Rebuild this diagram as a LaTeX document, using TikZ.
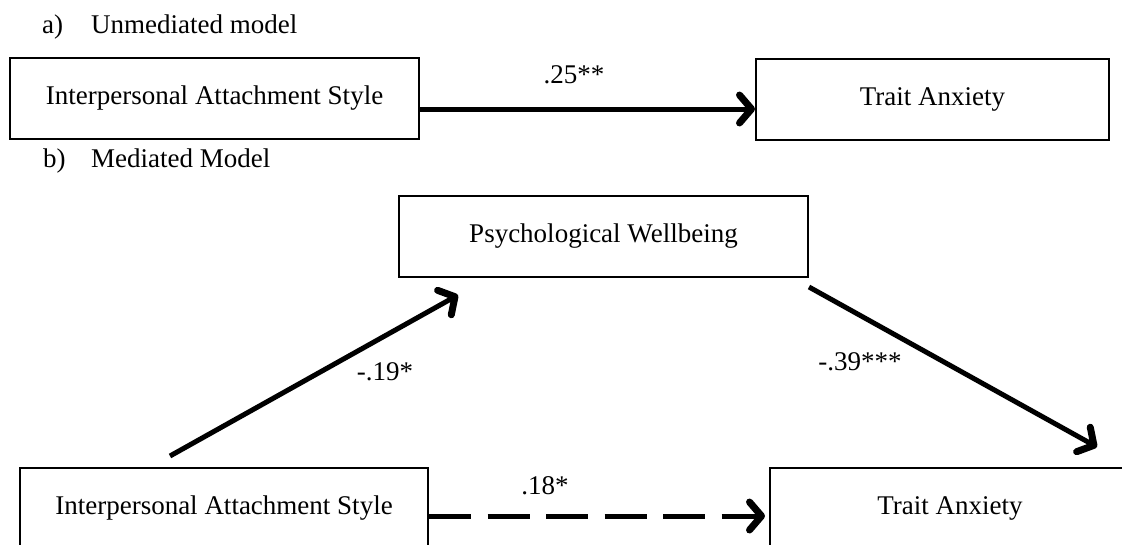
\documentclass[tikz,border=0pt]{standalone}
\usepackage{fontspec}
\setmainfont{Liberation Serif}
\usetikzlibrary{arrows.meta}
\tikzset{
  varbox/.style = {draw, line width=2pt, minimum height=81pt, inner sep=0pt,
                   font=\fontsize{27}{32}\selectfont},
  coef/.style = {font=\fontsize{27}{32}\selectfont},
  tag/.style = {anchor=base west, inner sep=0pt, font=\fontsize{27}{32}\selectfont},
  effect/.style = {line width=5pt,
    -{Straight Barb[length=12pt,width=28pt,line width=7pt,line cap=round,line join=round]}}
}

\begin{document}
\begin{tikzpicture}[x=1pt,y=-1pt]
  \clip (0,0) rectangle (1122,544);
  % a) unmediated
  \node[tag] (atag) at (42,33) {a)};
  \node[tag] (atitle) at (91,33) {Unmediated model};
  \node[varbox, minimum width=409pt] (ias1) at (214.5,98.5) {Interpersonal Attachment Style};
  \node[varbox, minimum width=353pt] (ta1) at (932.5,99) {Trait Anxiety};
  \draw[effect] ([yshift=-10.5pt]ias1.east) -- ([yshift=-10pt]ta1.west);
  \node[coef] (c25) at (574,75) {.25**};
  % b) mediated
  \node[tag] (btag) at (43,167) {b)};
  \node[tag] (btitle) at (91,167) {Mediated Model};
  \node[varbox, minimum width=409pt] (pw) at (603.5,236.5) {Psychological Wellbeing};
  \node[varbox, minimum width=408pt] (ias2) at (224,508.5) {Interpersonal Attachment Style};
  \node[varbox, minimum width=360pt] (ta2) at (950,508.5) {Trait Anxiety};
  \draw[effect] ([shift={(-54,-11)}]ias2.north) -- ([shift={(-145.5,17)}]pw.south);
  \draw[effect] ([shift={(0,9)}]pw.south east) -- ([shift={(147,-20)}]ta2.north);
  \draw[effect, dash pattern=on 42pt off 16.5pt, shorten >=4pt]
    ([yshift=-7.5pt]ias2.east) -- ([yshift=-7.5pt]ta2.west);
  \node[coef] (c19) at (385,372) {-.19*};
  \node[coef] (c39) at (860,362) {-.39***};
  \node[coef] (c18) at (545,486) {.18*};
\end{tikzpicture}
\end{document}
